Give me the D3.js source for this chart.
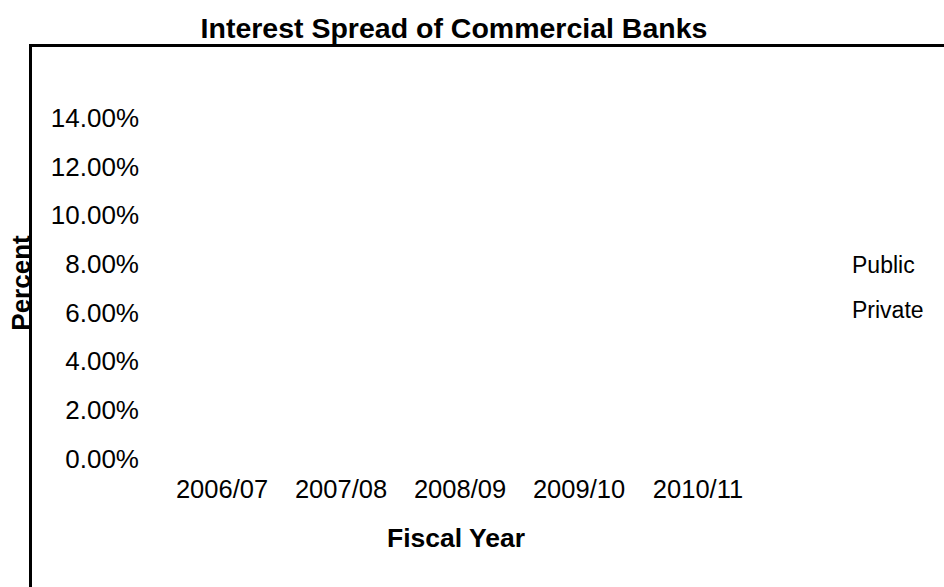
<!DOCTYPE html>
<html>
<head>
<meta charset="utf-8">
<script src="https://cdn.jsdelivr.net/npm/d3@7"></script>
<style>
  body { margin: 0; background: #fff; }
  svg { display: block; font-family: "Liberation Sans", Arial, sans-serif; }
</style>
</head>
<body>
<svg id="chart" width="944" height="587"></svg>
<script>
// chart data
const categories = ["2006/07", "2007/08", "2008/09", "2009/10", "2010/11"];
const seriesNames = ["Public", "Private"];
// no bars are visible in the picture, so no values can be read
const publicValues = [null, null, null, null, null];
const privateValues = [null, null, null, null, null];
const yTicks = [0, 0.02, 0.04, 0.06, 0.08, 0.10, 0.12, 0.14];

const width = 944, height = 587;
const svg = d3.select("#chart");

// outer frame (only its top and left edges fall inside the picture)
svg.append("path")
    .attr("d", `M30.5,${height} V45.5 H${width}`)
    .attr("fill", "none")
    .attr("stroke", "#000")
    .attr("stroke-width", 3);

svg.append("text")
    .attr("x", 454)
    .attr("y", 38)
    .attr("text-anchor", "middle")
    .attr("font-size", 28.5)
    .attr("font-weight", "bold")
    .text("Interest Spread of Commercial Banks");

const y = d3.scaleLinear().domain([0, 0.14]).range([459, 118]);
const x = d3.scaleBand().domain(categories).range([162.5, 757.5]).padding(0);

// y tick labels, no axis line
const yAxis = svg.append("g")
    .attr("transform", "translate(139,0)")
    .call(d3.axisLeft(y).tickValues(yTicks).tickFormat(d3.format(".2%")).tickSize(0).tickPadding(0));
yAxis.select(".domain").remove();
yAxis.selectAll("text")
    .attr("font-size", 26)
    .attr("font-family", "Liberation Sans, Arial, sans-serif")
    .attr("fill", "#000");

// x category labels
const xAxis = svg.append("g")
    .attr("transform", "translate(0,480)")
    .call(d3.axisBottom(x).tickSize(0).tickPadding(0));
xAxis.select(".domain").remove();
xAxis.selectAll("text")
    .attr("font-size", 25.5)
    .attr("font-family", "Liberation Sans, Arial, sans-serif")
    .attr("fill", "#000");

// bars (drawn only where a value exists)
const sub = d3.scaleBand().domain(seriesNames).range([0, x.bandwidth()]).padding(0.2);
const color = d3.scaleOrdinal().domain(seriesNames).range(["#000080", "#ff00ff"]);
const rows = categories.map((c, i) => ({ cat: c, Public: publicValues[i], Private: privateValues[i] }));
svg.append("g").selectAll("g")
    .data(rows)
    .join("g")
    .attr("transform", d => `translate(${x(d.cat)},0)`)
    .selectAll("rect")
    .data(d => seriesNames.map(k => ({ key: k, value: d[k] })).filter(v => v.value != null))
    .join("rect")
    .attr("x", d => sub(d.key))
    .attr("width", sub.bandwidth())
    .attr("y", d => y(d.value))
    .attr("height", d => y(0) - y(d.value))
    .attr("fill", d => color(d.key));

// axis titles
svg.append("text")
    .attr("x", 456)
    .attr("y", 547)
    .attr("text-anchor", "middle")
    .attr("font-size", 26.5)
    .attr("font-weight", "bold")
    .text("Fiscal Year");

svg.append("text")
    .attr("transform", "translate(30,283) rotate(-90)")
    .attr("text-anchor", "middle")
    .attr("font-size", 26)
    .attr("font-weight", "bold")
    .text("Percent");

// legend labels
svg.append("g").selectAll("text")
    .data(seriesNames)
    .join("text")
    .attr("x", 852)
    .attr("y", (d, i) => 273 + i * 45)
    .attr("font-size", 23)
    .text(d => d);
</script>
</body>
</html>
